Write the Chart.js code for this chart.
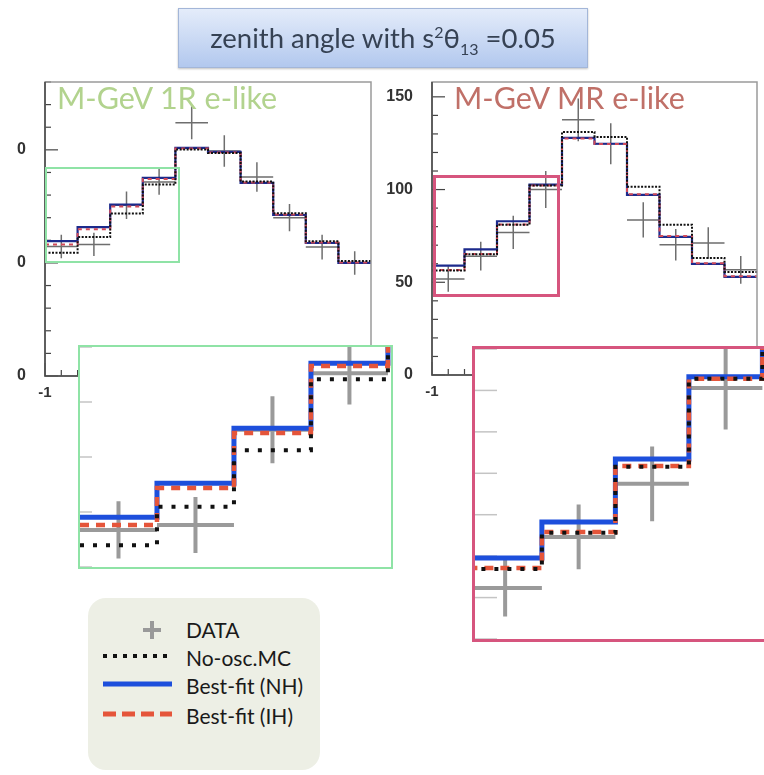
<!DOCTYPE html>
<html>
<head>
<meta charset="utf-8">
<script src="https://cdn.jsdelivr.net/npm/chart.js@4.4.0/dist/chart.umd.min.js"></script>
<style>
html,body{margin:0;padding:0;background:#fff;}
body{width:764px;height:775px;position:relative;overflow:hidden;font-family:Lato,"Open Sans",sans-serif;}
.abs{position:absolute;box-sizing:border-box;}
#title{left:178px;top:8px;width:410px;height:60px;border:1px solid #a3b6d8;background:linear-gradient(#e4ecfa,#b2c8ee);box-shadow:0 1px 2px rgba(0,0,0,.25);color:#364254;font-size:27.5px;text-align:center;line-height:58px;z-index:5;}
#title sup,#title sub{font-size:16px;line-height:0;}
#mainL{left:-40px;top:70px;width:416px;height:340px;z-index:1;}
#mainR{left:340px;top:70px;width:424px;height:339px;z-index:1;}
#boxL{left:45px;top:167px;width:135px;height:96px;border:2px solid #8fe3a6;z-index:2;}
#boxR{left:433px;top:175px;width:127px;height:122px;border:3px solid #d6557e;z-index:2;}
.ptitle{font-size:30.5px;z-index:2;white-space:nowrap;}
#tL{left:57px;top:79px;color:#b2d38e;}
#tR{left:454px;top:79px;color:#c07068;}
#insetL{left:78px;top:345px;width:315px;height:224px;border:2px solid #8fe3a6;background:#fff;z-index:3;}
#insetR{left:472px;top:346px;width:300px;height:296px;border:3px solid #d6557e;background:#fff;z-index:3;}
.inner{position:relative;width:100%;height:100%;}
#mask{left:0;top:90px;width:17px;height:320px;background:#fff;z-index:4;}
#legend{left:88px;top:598px;width:232px;height:172px;border-radius:18px;background:#edefe5;z-index:3;}
.lrow{position:absolute;left:0;width:232px;height:28px;}
.lrow svg{position:absolute;left:12px;top:0;}
.lrow span{position:absolute;left:98px;top:0;font-size:21px;line-height:28px;color:#1a1a1a;white-space:nowrap;}
</style>
</head>
<body>
<div id="title" class="abs">zenith angle with s<sup>2</sup>θ<sub>13</sub> =0.05</div>

<div id="mainL" class="abs"><canvas id="cMainL"></canvas></div>
<div id="mainR" class="abs"><canvas id="cMainR"></canvas></div>
<div id="boxL" class="abs"></div>
<div id="boxR" class="abs"></div>
<div id="tL" class="abs ptitle">M-GeV 1R e-like</div>
<div id="tR" class="abs ptitle">M-GeV MR e-like</div>

<div id="insetL" class="abs"><div class="inner"><canvas id="cInsetL"></canvas></div></div>
<div id="insetR" class="abs"><div class="inner"><canvas id="cInsetR"></canvas></div></div>
<div id="mask" class="abs"></div>

<div id="legend" class="abs">
  <div class="lrow" style="top:18px">
    <svg width="80" height="28"><path d="M52 5 V23 M43 14 H61" stroke="#999" stroke-width="4"/></svg>
    <span>DATA</span>
  </div>
  <div class="lrow" style="top:46px">
    <svg width="80" height="28"><line x1="3" y1="12" x2="72" y2="12" stroke="#111" stroke-width="4" stroke-dasharray="4 6"/></svg>
    <span>No-osc.MC</span>
  </div>
  <div class="lrow" style="top:74px">
    <svg width="80" height="28"><line x1="3" y1="12" x2="72" y2="12" stroke="#1d4fdc" stroke-width="5"/></svg>
    <span>Best-fit (NH)</span>
  </div>
  <div class="lrow" style="top:104px">
    <svg width="80" height="28"><line x1="3" y1="12" x2="72" y2="12" stroke="#e5553a" stroke-width="5" stroke-dasharray="13 6"/></svg>
    <span>Best-fit (IH)</span>
  </div>
</div>

<script>
// bin edges in cos(zenith)
const binEdges = [-1, -0.8, -0.6, -0.4, -0.2, 0, 0.2, 0.4, 0.6, 0.8, 1];

// M-GeV 1R e-like
const data1R  = [57.3, 58.2, 75.5, 85.8, 112, 99.5, 88, 70, 57, 50];
const err1R   = [5.2, 5.1, 6.1, 5.7, 7.3, 7, 6.5, 6, 5.5, 5.2];
const noOsc1R = [54.5, 61.5, 71.8, 84.7, 100.2, 98.6, 86.0, 72.0, 59.6, 50.8];
const nh1R    = [59.6, 65.8, 75.8, 87.6, 100.9, 99.1, 85.4, 71.2, 58.8, 50.0];
const ih1R    = [58.2, 64.9, 74.9, 87.1, 100.6, 98.8, 85.6, 71.4, 59.0, 50.2];

// M-GeV MR e-like
const dataMR  = [51.8, 64.1, 76.9, 100, 137.6, 124.7, 83.6, 70.2, 71.2, 56.7];
const errMR   = [6.9, 7.8, 9, 10, 11.5, 11, 9.5, 8.5, 8.5, 7.5];
const noOscMR = [56.4, 65.1, 81.0, 102.2, 131.1, 128.4, 101.5, 81, 63.1, 55.6];
const nhMR    = [59.0, 67.7, 82.9, 102.7, 127.9, 124.7, 97.1, 74.5, 59.9, 52.9];
const ihMR    = [56.6, 65.3, 81.2, 102.2, 127.5, 124.5, 97.5, 75, 60.3, 53.3];

function stepPts(vals) {
  const pts = vals.map((v, i) => ({x: binEdges[i], y: v}));
  pts.push({x: binEdges[binEdges.length - 1], y: vals[vals.length - 1]});
  return pts;
}
function crossPts(vals, errs) {
  const pts = [];
  vals.forEach((v, i) => {
    const lo = binEdges[i], hi = binEdges[i + 1], c = (lo + hi) / 2;
    pts.push({x: lo, y: v}, {x: hi, y: v}, {x: c, y: null});
    pts.push({x: c, y: v - errs[i]}, {x: c, y: v + errs[i]}, {x: c, y: null});
  });
  return pts;
}

// ROOT style frame + inner ticks
const framePlugin = {
  id: "frame",
  afterDatasetsDraw(chart, args, o) {
    if (!o.show) return;
    const a = chart.chartArea, ctx = chart.ctx;
    ctx.save();
    ctx.lineWidth = 1.5;
    ctx.strokeStyle = "#9a9a9a";
    ctx.strokeRect(a.left, a.top, a.right - a.left, a.bottom - a.top);
    ctx.strokeStyle = "#444";
    ctx.beginPath(); ctx.moveTo(a.left, a.top); ctx.lineTo(a.left, a.bottom); ctx.lineTo(a.right, a.bottom); ctx.stroke();
    ctx.restore();
  }
};
const tickPlugin = {
  id: "innerTicks",
  beforeDatasetsDraw(chart, args, o) {
    if (!o.show) return;
    const a = chart.chartArea, ctx = chart.ctx;
    ctx.save();
    ctx.strokeStyle = o.color; ctx.lineWidth = o.width || 1;
    const ys = chart.scales.y;
    ys.ticks.forEach(t => {
      const p = ys.getPixelForValue(t.value);
      const len = Math.abs(t.value % o.majorY) < 1e-6 ? o.majorLen : o.minorLen;
      ctx.beginPath(); ctx.moveTo(a.left, p); ctx.lineTo(a.left + len, p); ctx.stroke();
    });
    if (o.xTicks) {
      const xs = chart.scales.x;
      xs.ticks.forEach(t => {
        const p = xs.getPixelForValue(t.value);
        const maj = Math.abs(t.value * 2 - Math.round(t.value * 2)) < 1e-6;
        ctx.beginPath(); ctx.moveTo(p, a.bottom); ctx.lineTo(p, a.bottom - (maj ? o.majorLen : o.minorLen)); ctx.stroke();
      });
    }
    ctx.restore();
  }
};

const tickFont = {family: "'Liberation Sans', Arial", size: 16, weight: "bold"};
function noPad(s) { s.paddingTop = 0; s.paddingBottom = 0; s.paddingLeft = 0; s.paddingRight = 0; }

function mainChart(id, d, yMax, axisW) {
  return new Chart(document.getElementById(id), {
    type: "line",
    data: {datasets: [
      {label: "No-osc.MC", data: stepPts(d.noOsc), stepped: true, borderColor: "#111", borderWidth: 2, borderDash: [2, 1.5], pointRadius: 0, order: 1},
      {label: "Best-fit (IH)", data: stepPts(d.ih), stepped: true, borderColor: "#d04a5a", borderWidth: 2, borderDash: [4, 4], pointRadius: 0, order: 2},
      {label: "Best-fit (NH)", data: stepPts(d.nh), stepped: true, borderColor: "#1c2a8c", borderWidth: 2.2, pointRadius: 0, order: 3},
      {label: "DATA", data: crossPts(d.data, d.err), borderColor: "#6e6e6e", borderWidth: 1.5, pointRadius: 0, spanGaps: false, order: 4}
    ]},
    options: {
      responsive: true, maintainAspectRatio: false, animation: false,
      layout: {padding: {top: 12, right: d.padR, left: 0, bottom: 0}},
      plugins: {legend: {display: false}, tooltip: {enabled: false},
        frame: {show: true},
        innerTicks: {show: true, color: "#444", width: 1.2, majorY: 50, majorLen: 13, minorLen: 6, xTicks: true}},
      scales: {
        x: {type: "linear", min: -1, max: 1,
          ticks: {stepSize: 0.1, autoSkip: false, maxRotation: 0, padding: 8, color: "#333", font: {...tickFont, size: 15},
            callback: v => Math.abs(v * 2 - Math.round(v * 2)) < 1e-6 ? String(Math.round(v * 2) / 2) : ""},
          grid: {display: false, drawTicks: false}, border: {display: false},
          afterFit: s => { s.height = 34; noPad(s); }},
        y: {min: 0, max: yMax,
          ticks: {stepSize: 10, autoSkip: false, includeBounds: false, padding: 19, color: "#333", font: tickFont,
            callback: v => v % 50 === 0 ? String(v) : ""},
          grid: {display: false, drawTicks: false}, border: {display: false},
          afterFit: s => { s.width = axisW; noPad(s); }}
      }
    },
    plugins: [framePlugin, tickPlugin]
  });
}

function insetChart(id, d, xMin, xMax, yMin, yMax, tickLen) {
  return new Chart(document.getElementById(id), {
    type: "line",
    data: {datasets: [
      {label: "No-osc.MC", data: stepPts(d.noOsc), stepped: true, borderColor: "#111", borderWidth: 4, borderDash: [4, 9], pointRadius: 0, order: 1},
      {label: "Best-fit (IH)", data: stepPts(d.ih), stepped: true, borderColor: "#e5553a", borderWidth: 4.5, borderDash: [9, 7], pointRadius: 0, order: 2},
      {label: "Best-fit (NH)", data: stepPts(d.nh), stepped: true, borderColor: "#1d4fdc", borderWidth: 5, pointRadius: 0, order: 3},
      {label: "DATA", data: crossPts(d.data, d.err), borderColor: "#9a9a9a", borderWidth: 4, pointRadius: 0, spanGaps: false, order: 4}
    ]},
    options: {
      responsive: true, maintainAspectRatio: false, animation: false,
      layout: {padding: 0},
      plugins: {legend: {display: false}, tooltip: {enabled: false},
        innerTicks: {show: true, color: "#c4c4c4", width: 1.5, majorY: 1000, majorLen: tickLen, minorLen: tickLen}},
      scales: {
        x: {type: "linear", display: false, min: xMin, max: xMax},
        y: {min: yMin, max: yMax,
          ticks: {display: false, stepSize: 10, includeBounds: false},
          grid: {display: false, drawTicks: false}, border: {display: false},
          afterFit: s => { s.width = 0; noPad(s); }}
      }
    },
    plugins: [tickPlugin]
  });
}

const d1R = {data: data1R, err: err1R, noOsc: noOsc1R, nh: nh1R, ih: ih1R, padR: 5};
const dMR = {data: dataMR, err: errMR, noOsc: noOscMR, nh: nhMR, ih: ihMR, padR: 7};

mainChart("cMainL", d1R, 130, 85);
mainChart("cMainR", dMR, 158, 92);
insetChart("cInsetL", d1R, -1, -0.192, 50.55, 90.55, 12);
insetChart("cInsetR", dMR, -0.982, -0.182, 39.5, 109.4, 22);
</script>
</body>
</html>
